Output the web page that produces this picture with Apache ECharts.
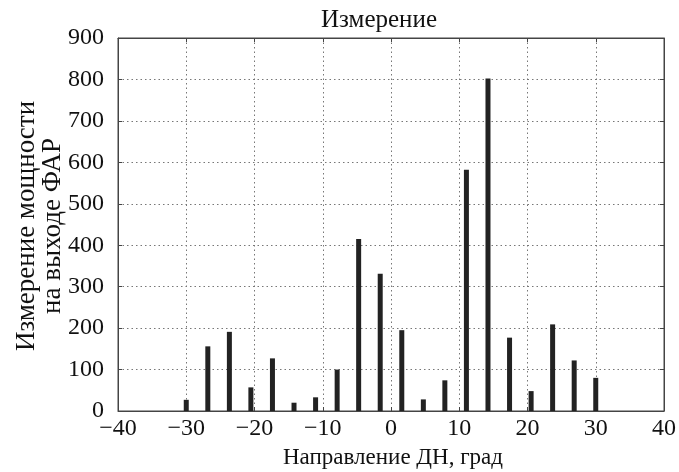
<!DOCTYPE html>
<html>
<head>
<meta charset="utf-8">
<script src="https://cdn.jsdelivr.net/npm/echarts@6/dist/echarts.min.js"></script>
<style>
html,body{margin:0;padding:0;background:#fff;}
#chart{width:679px;height:472px;}
</style>
</head>
<body>
<div id="chart"></div>
<script>
// Data
var directions = [-30, -26.84, -23.68, -20.53, -17.37, -14.21, -11.05, -7.89, -4.74, -1.58,
                  1.58, 4.74, 7.89, 11.05, 14.21, 17.37, 20.53, 23.68, 26.84, 30];
var power = [27, 156, 191, 57, 127, 20, 33, 100, 415, 331,
             195, 28, 74, 582, 802, 177, 48, 209, 122, 80];
var xTicks = [-40, -30, -20, -10, 0, 10, 20, 30, 40];
var yTicks = [0, 100, 200, 300, 400, 500, 600, 700, 800, 900];
var titleText = 'Измерение';
var xTitle = 'Направление ДН, град';
var yTitleLines = ['Измерение мощности', 'на выходе ФАР'];

var FONT = '"Liberation Serif", "Times New Roman", serif';
var pairs = directions.map(function (d, i) { return [d, power[i]]; });

var chart = echarts.init(document.getElementById('chart'), null, {renderer: 'canvas'});
var labelStyle = {color: '#111', fontFamily: FONT, fontSize: 24};
chart.setOption({
  animation: false,
  backgroundColor: '#fff',
  grid: {left: 118, right: 6, top: 38, bottom: 61, show: true, borderColor: '#444', borderWidth: 1, backgroundColor: 'transparent'},
  xAxis: [{
    type: 'value', min: xTicks[0], max: xTicks[xTicks.length - 1], interval: 10,
    axisLine: {show: true, onZero: false, lineStyle: {color: '#444', width: 1}},
    axisTick: {show: true, inside: true, length: 4, lineStyle: {color: '#444'}},
    axisLabel: Object.assign({margin: 6, formatter: function (v) { return v < 0 ? '\u2212' + Math.abs(v) : String(v); }}, labelStyle),
    splitLine: {show: true, lineStyle: {color: '#777', type: [1.5, 3], width: 1}}
  }, {
    type: 'value', position: 'top', min: xTicks[0], max: xTicks[xTicks.length - 1], interval: 10,
    axisLine: {show: true, onZero: false, lineStyle: {color: '#444'}},
    axisTick: {show: true, inside: true, length: 4, lineStyle: {color: '#444'}},
    axisLabel: {show: false}, splitLine: {show: false}
  }],
  yAxis: [{
    type: 'value', min: yTicks[0], max: yTicks[yTicks.length - 1], interval: 100,
    axisLine: {show: true, onZero: false, lineStyle: {color: '#444', width: 1}},
    axisTick: {show: true, inside: true, length: 4, lineStyle: {color: '#444'}},
    axisLabel: Object.assign({margin: 14}, labelStyle),
    splitLine: {show: true, lineStyle: {color: '#777', type: [1.5, 3], width: 1}}
  }, {
    type: 'value', position: 'right', min: yTicks[0], max: yTicks[yTicks.length - 1], interval: 100,
    axisLine: {show: true, onZero: false, lineStyle: {color: '#444'}},
    axisTick: {show: true, inside: true, length: 4, lineStyle: {color: '#444'}},
    axisLabel: {show: false}, splitLine: {show: false}
  }],
  series: [{
    type: 'bar', data: pairs, barWidth: 5, xAxisIndex: 0, yAxisIndex: 0,
    itemStyle: {color: '#222'}
  }],
  graphic: [
    {type: 'text', x: 379, y: 20, style: {text: titleText, textAlign: 'center', textVerticalAlign: 'middle', fill: '#111', font: '25px ' + FONT}},
    {type: 'text', x: 393, y: 458, style: {text: xTitle, textAlign: 'center', textVerticalAlign: 'middle', fill: '#111', font: '23px ' + FONT}},
    {type: 'text', x: 40, y: 226, rotation: Math.PI / 2, style: {text: yTitleLines.join('\n'), textAlign: 'center', textVerticalAlign: 'middle', fill: '#111', font: '27px ' + FONT, lineHeight: 26}}
  ]
});
</script>
</body>
</html>
